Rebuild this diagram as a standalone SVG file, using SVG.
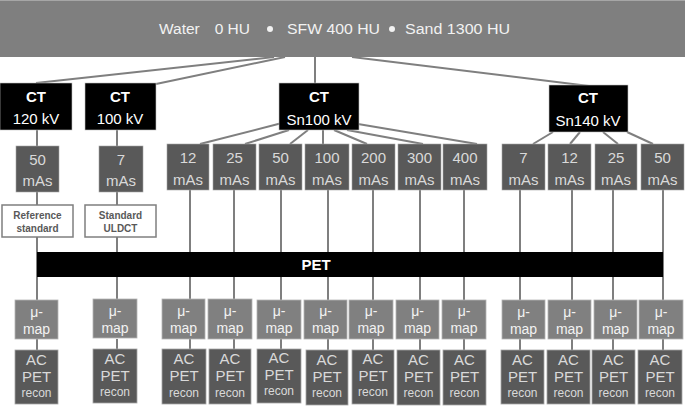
<svg xmlns="http://www.w3.org/2000/svg" width="685" height="406" viewBox="0 0 685 406">
<style>
  text { font-family: "Liberation Sans", Arial, sans-serif; text-anchor: middle; }
  .ban { fill: #f2f2f2; font-size: 15.5px; text-anchor: start; }
  .ct rect { fill: #000; stroke: #bfbfbf; stroke-width: 0.6; }
  .ct text { fill: #fff; font-size: 15px; }
  .ct .b { font-weight: bold; }
  .mas rect { fill: #595959; stroke: #a6a6a6; stroke-width: 0.6; }
  .mas text { fill: #d9d9d9; font-size: 15px; }
  .lbl rect { fill: #fff; stroke: #7f7f7f; stroke-width: 1.5; }
  .lbl text { fill: #595959; font-size: 10px; font-weight: bold; }
  .mu rect { fill: #808080; stroke: #b5b5b5; stroke-width: 0.8; }
  .mu text { fill: #f2f2f2; font-size: 14px; }
  .ac rect { fill: #595959; stroke: #a6a6a6; stroke-width: 0.8; }
  .ac text { fill: #d9d9d9; font-size: 15px; }
  .ac .s { font-size: 12px; }
  #connectors line { stroke: #7f7f7f; stroke-width: 2; }
</style>

<g id="connectors">
  <!-- banner to CT -->
  <line x1="274" y1="57" x2="36" y2="83"/>
  <line x1="285" y1="57" x2="156" y2="84"/>
  <line x1="315" y1="57" x2="315" y2="84"/>
  <line x1="352" y1="57" x2="589" y2="86"/>
  <!-- left columns -->
  <line x1="37" y1="130" x2="37" y2="300"/>
  <line x1="117" y1="130" x2="117" y2="300"/>
  <!-- Sn100 fan -->
  <line x1="282" y1="123" x2="200" y2="144"/>
  <line x1="289" y1="130" x2="245" y2="144"/>
  <line x1="308" y1="130" x2="290" y2="144"/>
  <line x1="323" y1="130" x2="323" y2="144"/>
  <line x1="334" y1="130" x2="367" y2="144"/>
  <line x1="347" y1="130" x2="423" y2="144"/>
  <line x1="358" y1="124" x2="477" y2="144"/>
  <!-- Sn140 fan -->
  <line x1="553" y1="132" x2="533" y2="144"/>
  <line x1="580" y1="132" x2="570" y2="144"/>
  <line x1="603" y1="132" x2="618" y2="144"/>
  <line x1="627" y1="132" x2="653" y2="144"/>
  <!-- down to mu-map -->
  <line x1="190" y1="190" x2="190" y2="300"/>
  <line x1="234" y1="190" x2="234" y2="300"/>
  <line x1="281" y1="190" x2="281" y2="300"/>
  <line x1="328" y1="190" x2="328" y2="300"/>
  <line x1="373" y1="190" x2="373" y2="300"/>
  <line x1="420" y1="190" x2="420" y2="300"/>
  <line x1="464" y1="190" x2="464" y2="300"/>
  <line x1="520" y1="190" x2="520" y2="300"/>
  <line x1="572" y1="190" x2="572" y2="300"/>
  <line x1="613" y1="190" x2="613" y2="300"/>
  <line x1="663" y1="190" x2="663" y2="300"/>
  <!-- mu-map to AC -->
  <line x1="37" y1="339" x2="37" y2="350"/>
  <line x1="117" y1="339" x2="117" y2="350"/>
  <line x1="190" y1="339" x2="190" y2="350"/>
  <line x1="234" y1="339" x2="234" y2="350"/>
  <line x1="281" y1="339" x2="281" y2="350"/>
  <line x1="328" y1="339" x2="328" y2="350"/>
  <line x1="373" y1="339" x2="373" y2="350"/>
  <line x1="420" y1="339" x2="420" y2="350"/>
  <line x1="464" y1="339" x2="464" y2="350"/>
  <line x1="520" y1="339" x2="520" y2="350"/>
  <line x1="572" y1="339" x2="572" y2="350"/>
  <line x1="613" y1="339" x2="613" y2="350"/>
  <line x1="663" y1="339" x2="663" y2="350"/>
</g>

<g id="banner">
  <rect x="0" y="0" width="685" height="57" fill="#7f7f7f"/>
  <line x1="0" y1="0.5" x2="685" y2="0.5" stroke="#a6a6a6" stroke-width="1"/>
  <text class="ban" x="159" y="34">Water</text>
  <text class="ban" x="250" y="34" style="text-anchor:end">0 HU</text>
  <circle cx="270" cy="29" r="3" fill="#f2f2f2"/>
  <text class="ban" x="287" y="34" textLength="93" lengthAdjust="spacingAndGlyphs">SFW 400 HU</text>
  <circle cx="392" cy="29" r="3" fill="#f2f2f2"/>
  <text class="ban" x="405" y="34" textLength="105" lengthAdjust="spacingAndGlyphs">Sand 1300 HU</text>
</g>

<g id="ct120" class="ct"><rect x="0" y="83" width="72" height="47"/><text class="b" x="36" y="102">CT</text><text x="36" y="124">120 kV</text></g>
<g id="ct100" class="ct"><rect x="85" y="83" width="71" height="47"/><text class="b" x="120" y="102">CT</text><text x="120" y="124">100 kV</text></g>
<g id="ctsn100" class="ct"><rect x="279" y="83" width="80" height="47"/><text class="b" x="319" y="102">CT</text><text x="319" y="125">Sn100 kV</text></g>
<g id="ctsn140" class="ct"><rect x="549" y="85" width="79" height="47"/><text class="b" x="588" y="103">CT</text><text x="588" y="126">Sn140 kV</text></g>

<g id="m120-50" class="mas"><rect x="16" y="146" width="43" height="46"/><text x="37.5" y="165">50</text><text x="37.5" y="186">mAs</text></g>
<g id="m100-7" class="mas"><rect x="99" y="146" width="44" height="46"/><text x="121" y="165">7</text><text x="121" y="186">mAs</text></g>

<g id="m100-12" class="mas"><rect x="167" y="144" width="42" height="46"/><text x="188" y="163">12</text><text x="188" y="185">mAs</text></g>
<g id="m100-25" class="mas"><rect x="213" y="144" width="43" height="46"/><text x="234.5" y="163">25</text><text x="234.5" y="185">mAs</text></g>
<g id="m100-50" class="mas"><rect x="259" y="144" width="43" height="46"/><text x="280.5" y="163">50</text><text x="280.5" y="185">mAs</text></g>
<g id="m100-100" class="mas"><rect x="305" y="144" width="44" height="46"/><text x="327" y="163">100</text><text x="327" y="185">mAs</text></g>
<g id="m100-200" class="mas"><rect x="352" y="144" width="43" height="46"/><text x="373.5" y="163">200</text><text x="373.5" y="185">mAs</text></g>
<g id="m100-300" class="mas"><rect x="398" y="144" width="43" height="46"/><text x="419.5" y="163">300</text><text x="419.5" y="185">mAs</text></g>
<g id="m100-400" class="mas"><rect x="443" y="144" width="44" height="46"/><text x="465" y="163">400</text><text x="465" y="185">mAs</text></g>

<g id="m140-7" class="mas"><rect x="502" y="144" width="43" height="46"/><text x="523.5" y="163">7</text><text x="523.5" y="185">mAs</text></g>
<g id="m140-12" class="mas"><rect x="548" y="144" width="43" height="46"/><text x="569.5" y="163">12</text><text x="569.5" y="185">mAs</text></g>
<g id="m140-25" class="mas"><rect x="595" y="144" width="42" height="46"/><text x="616" y="163">25</text><text x="616" y="185">mAs</text></g>
<g id="m140-50" class="mas"><rect x="641" y="144" width="43" height="46"/><text x="662.5" y="163">50</text><text x="662.5" y="185">mAs</text></g>

<g id="refstd" class="lbl"><rect x="2" y="205" width="71" height="32"/><text x="37.5" y="219">Reference</text><text x="37.5" y="232">standard</text></g>
<g id="uldct" class="lbl"><rect x="85" y="205" width="71" height="32"/><text x="120.5" y="219">Standard</text><text x="120.5" y="232">ULDCT</text></g>

<g id="pet"><rect x="37" y="252" width="626" height="25" fill="#000"/><text x="316" y="270" fill="#fff" font-size="15" font-weight="bold">PET</text></g>

<g id="mu1" class="mu"><rect x="15" y="300" width="43" height="39"/><text x="36.5" y="317">μ-</text><text x="36.5" y="334">map</text></g>
<g id="mu2" class="mu"><rect x="93" y="299" width="44" height="39"/><text x="115" y="316">μ-</text><text x="115" y="333">map</text></g>
<g id="mu3" class="mu"><rect x="162" y="299" width="43" height="40"/><text x="183.5" y="316">μ-</text><text x="183.5" y="333">map</text></g>
<g id="mu4" class="mu"><rect x="208" y="299" width="44" height="40"/><text x="230" y="316">μ-</text><text x="230" y="333">map</text></g>
<g id="mu5" class="mu"><rect x="257" y="300" width="44" height="39"/><text x="279" y="316">μ-</text><text x="279" y="333">map</text></g>
<g id="mu6" class="mu"><rect x="304" y="300" width="43" height="39"/><text x="325.5" y="316">μ-</text><text x="325.5" y="333">map</text></g>
<g id="mu7" class="mu"><rect x="349" y="300" width="44" height="39"/><text x="371" y="316">μ-</text><text x="371" y="333">map</text></g>
<g id="mu8" class="mu"><rect x="396" y="300" width="43" height="39"/><text x="417.5" y="316">μ-</text><text x="417.5" y="333">map</text></g>
<g id="mu9" class="mu"><rect x="442" y="300" width="44" height="39"/><text x="464" y="316">μ-</text><text x="464" y="333">map</text></g>
<g id="mu10" class="mu"><rect x="502" y="300" width="43" height="39"/><text x="523.5" y="317">μ-</text><text x="523.5" y="334">map</text></g>
<g id="mu11" class="mu"><rect x="548" y="300" width="43" height="39"/><text x="569.5" y="317">μ-</text><text x="569.5" y="334">map</text></g>
<g id="mu12" class="mu"><rect x="594" y="300" width="43" height="39"/><text x="615.5" y="317">μ-</text><text x="615.5" y="334">map</text></g>
<g id="mu13" class="mu"><rect x="639" y="300" width="44" height="39"/><text x="661" y="317">μ-</text><text x="661" y="334">map</text></g>

<g id="ac1" class="ac"><rect x="15" y="350" width="43" height="54"/><text x="36.5" y="365">AC</text><text x="36.5" y="382">PET</text><text class="s" x="36.5" y="397">recon</text></g>
<g id="ac2" class="ac"><rect x="93" y="349" width="44" height="54"/><text x="115" y="364">AC</text><text x="115" y="381">PET</text><text class="s" x="115" y="396">recon</text></g>
<g id="ac3" class="ac"><rect x="162" y="349" width="44" height="55"/><text x="184" y="364">AC</text><text x="184" y="381">PET</text><text class="s" x="184" y="397">recon</text></g>
<g id="ac4" class="ac"><rect x="209" y="349" width="42" height="55"/><text x="230" y="364">AC</text><text x="230" y="381">PET</text><text class="s" x="230" y="397">recon</text></g>
<g id="ac5" class="ac"><rect x="257" y="349" width="44" height="54"/><text x="279" y="363">AC</text><text x="279" y="380">PET</text><text class="s" x="279" y="395">recon</text></g>
<g id="ac6" class="ac"><rect x="306" y="350" width="42" height="55"/><text x="327" y="365">AC</text><text x="327" y="382">PET</text><text class="s" x="327" y="397">recon</text></g>
<g id="ac7" class="ac"><rect x="352" y="350" width="42" height="54"/><text x="373" y="364">AC</text><text x="373" y="381">PET</text><text class="s" x="373" y="396">recon</text></g>
<g id="ac8" class="ac"><rect x="397" y="350" width="43" height="55"/><text x="418.5" y="365">AC</text><text x="418.5" y="382">PET</text><text class="s" x="418.5" y="397">recon</text></g>
<g id="ac9" class="ac"><rect x="443" y="350" width="43" height="55"/><text x="464.5" y="365">AC</text><text x="464.5" y="382">PET</text><text class="s" x="464.5" y="397">recon</text></g>
<g id="ac10" class="ac"><rect x="501" y="350" width="43" height="54"/><text x="522.5" y="365">AC</text><text x="522.5" y="382">PET</text><text class="s" x="522.5" y="397">recon</text></g>
<g id="ac11" class="ac"><rect x="547" y="350" width="43" height="54"/><text x="568.5" y="365">AC</text><text x="568.5" y="382">PET</text><text class="s" x="568.5" y="397">recon</text></g>
<g id="ac12" class="ac"><rect x="592" y="350" width="43" height="54"/><text x="613.5" y="365">AC</text><text x="613.5" y="382">PET</text><text class="s" x="613.5" y="397">recon</text></g>
<g id="ac13" class="ac"><rect x="638" y="350" width="44" height="54"/><text x="660" y="365">AC</text><text x="660" y="382">PET</text><text class="s" x="660" y="397">recon</text></g>
</svg>
